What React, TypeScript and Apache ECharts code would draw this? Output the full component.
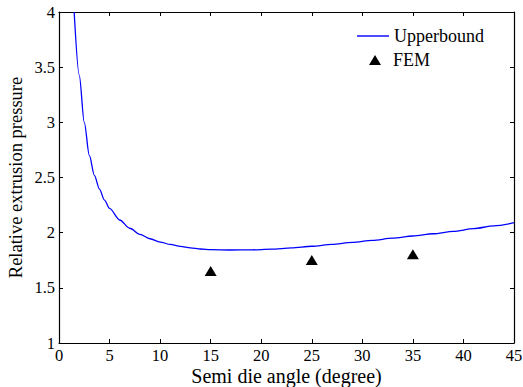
import React, { useEffect, useRef } from "react";
import * as echarts from "echarts";

const angleValues: number[] = [1.5, 2, 2.5, 3, 3.5, 4, 4.5, 5, 6, 7, 8, 9, 10, 11, 12, 13, 14, 15, 17, 19, 21, 23, 25, 27, 29, 31, 33, 35, 37, 39, 41, 43, 45];
const upperboundValues: number[] = [4.0, 3.43, 3.0, 2.7, 2.52, 2.395, 2.295, 2.22, 2.115, 2.04, 1.985, 1.945, 1.915, 1.893, 1.876, 1.862, 1.852, 1.846, 1.843, 1.844, 1.85, 1.862, 1.877, 1.894, 1.912, 1.93, 1.95, 1.97, 1.99, 2.012, 2.036, 2.062, 2.09];
const femAngles: number[] = [15, 25, 35];
const femValues: number[] = [1.653, 1.752, 1.805];

const FONT = "Liberation Serif";

export default function App() {
  const ref = useRef<HTMLDivElement>(null);
  useEffect(() => {
    if (!ref.current) return;
    const chart = echarts.init(ref.current, undefined, { renderer: "svg" });
    const axisCommon = {
      type: "value" as const,
      axisLine: { show: true, onZero: false, lineStyle: { color: "#000", width: 1.2 } },
      axisTick: { show: true, inside: true, length: 4, lineStyle: { color: "#000", width: 1 } },
      splitLine: { show: false },
    };
    chart.setOption({
      animation: false,
      backgroundColor: "#fff",
      textStyle: { fontFamily: FONT },
      grid: { left: 59, top: 12, right: 9, bottom: 44, containLabel: false, outerBoundsMode: "none" },
      xAxis: [
        {
          ...axisCommon,
          position: "bottom",
          min: 0,
          max: 45,
          interval: 5,
          name: "Semi die angle (degree)",
          nameLocation: "middle",
          nameGap: 23,
          nameMoveOverlap: false,
          nameTextStyle: { fontFamily: FONT, fontSize: 20, color: "#000" },
          axisLabel: { fontFamily: FONT, fontSize: 16.5, color: "#000", margin: 4 },
        },
        {
          ...axisCommon,
          position: "top",
          min: 0,
          max: 45,
          interval: 5,
          axisLabel: { show: false },
        },
      ],
      yAxis: [
        {
          ...axisCommon,
          position: "left",
          min: 1,
          max: 4,
          interval: 0.5,
          name: "Relative extrusion pressure",
          nameLocation: "middle",
          nameGap: 34,
          nameMoveOverlap: false,
          nameRotate: 90,
          nameTextStyle: { fontFamily: FONT, fontSize: 18.5, color: "#000" },
          axisLabel: { fontFamily: FONT, fontSize: 16.5, color: "#000", margin: 4 },
        },
        {
          ...axisCommon,
          position: "right",
          min: 1,
          max: 4,
          interval: 0.5,
          axisLabel: { show: false },
        },
      ],
      legend: [
        {
          data: [{ name: "Upperbound", icon: "rect" }],
          left: 357,
          top: 27,
          padding: 0,
          itemWidth: 32,
          itemHeight: 1.4,
          itemStyle: { color: "#0000ff" },
          textStyle: { fontFamily: FONT, fontSize: 18, color: "#000" },
        },
        {
          data: [{ name: "FEM", icon: "triangle" }],
          left: 369,
          top: 51,
          padding: 0,
          itemWidth: 12,
          itemHeight: 10,
          itemStyle: { color: "#000", opacity: 1 },
          textStyle: { fontFamily: FONT, fontSize: 18, color: "#000", padding: [0, 0, 0, 7] },
        },
      ],
      series: [
        {
          name: "Upperbound",
          type: "line",
          xAxisIndex: 0,
          yAxisIndex: 0,
          data: angleValues.map((a, i) => [a, upperboundValues[i]]),
          symbol: "none",
          smooth: 0.3,
          smoothMonotone: "x",
          lineStyle: { color: "#0000ff", width: 1.3 },
          itemStyle: { color: "#0000ff" },
          clip: true,
        },
        {
          name: "FEM",
          type: "scatter",
          xAxisIndex: 0,
          yAxisIndex: 0,
          data: femAngles.map((a, i) => [a, femValues[i]]),
          symbol: "triangle",
          symbolSize: [12, 10],
          itemStyle: { color: "#000", opacity: 1 },
        },
      ],
    });
    return () => chart.dispose();
  }, []);
  return <div ref={ref} style={{ width: 523, height: 387, position: "absolute", left: 0, top: 0 }} />;
}
